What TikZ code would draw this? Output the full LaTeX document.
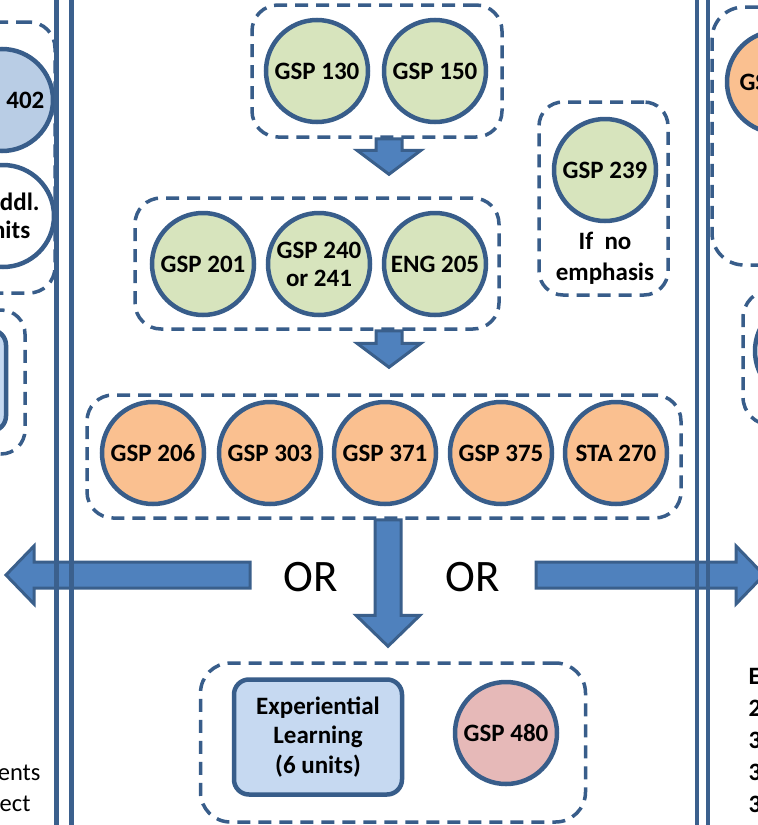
\documentclass[tikz,border=0pt]{standalone}
\usepackage{fontspec}
\setmainfont{Carlito}
\usetikzlibrary{calc}
\definecolor{bdr}{RGB}{56,93,138}
\definecolor{lineblue}{RGB}{59,96,141}
\definecolor{arrfill}{RGB}{79,129,189}
\definecolor{arrbdr}{RGB}{58,95,139}
\definecolor{greenf}{RGB}{215,228,189}
\definecolor{orangef}{RGB}{250,192,144}
\definecolor{rosef}{RGB}{230,185,184}
\definecolor{lbluef}{RGB}{198,217,241}
\definecolor{mbluef}{RGB}{185,205,229}
\newcommand\blockdown[3]{%
  \draw[blockarrow] let \p1=(#1), \p2=(#2) in
    (\x1-13pt,\y1) -- (\x1+13pt,\y1) -- (\x1+13pt,\y2+#3pt) -- (\x1+32pt,\y2+#3pt)
    -- (\x2,\y2) -- (\x1-32pt,\y2+#3pt) -- (\x1-13pt,\y2+#3pt) -- cycle;}
\begin{document}
\begin{tikzpicture}[x=1pt,y=-1pt,
  course/.style={circle,draw=bdr,line width=4.5pt,minimum size=102pt,inner sep=0pt,
    align=center,font=\fontsize{25}{28}\selectfont\bfseries},
  grp/.style={draw=bdr,line width=3.5pt,dash pattern=on 13pt off 8pt,rounded corners=26pt,
    inner sep=0pt},
  blockarrow/.style={fill=arrfill,draw=arrbdr,line width=3pt,line join=miter},
  vline/.style={draw=lineblue,line width=5pt},
  lbl/.style={align=center,font=\fontsize{25}{31}\selectfont\bfseries},
  ortext/.style={font=\fontsize{45}{48}\selectfont},
  plain/.style={font=\fontsize{24.5}{32}\selectfont}]
\useasboundingbox (0,0) rectangle (758,825);
\clip (0,0) rectangle (758,825);
\fill[white] (0,0) rectangle (758,825);

% ---- left column fragments
\node[grp,minimum width=110pt,minimum height=271pt] (lbox1) at (0,157.5) {};
\node[course,fill=mbluef] (g402) at (2,100) {GSP 402};
\node[course,fill=white] (addl) at (3,216) {6 Addl.\\Units};
\node[grp,minimum width=120pt,minimum height=144pt,rounded corners=24pt] (lbox2) at (-35,382) {};
\node[draw=bdr,line width=4.5pt,fill=lbluef,rounded corners=15pt,minimum width=120pt,minimum height=101pt] (lrect) at (-54,380.5) {};
\node[plain,anchor=east] (lt1) at (44,773) {ents};
\node[plain,anchor=east] (lt2) at (34,804) {ect};

% ---- right column fragments
\node[grp,minimum width=120pt,minimum height=258pt,rounded corners=32pt] (rbox1) at (772,136) {};
\node[course,fill=orangef] (rgsp) at (778,82) {};
\node[lbl,anchor=west] (rgsptxt) at (736,82) {GSP};
\node[grp,minimum width=100pt,minimum height=135pt,rounded corners=28pt] (rbox2) at (793,357.5) {};
\node[course,fill=white] (rcirc) at (806,351) {};
\node[anchor=west,align=left,font=\fontsize{25}{32}\selectfont\bfseries] (emph) at (745,740) {E\\2\\3\\3\\3};

% ---- top group
\node[grp,minimum width=250pt,minimum height=132pt] (topbox) at (377,71) {};
\node[course,fill=greenf] (g130) at (317,71) {GSP 130};
\node[course,fill=greenf] (g150) at (435,71) {GSP 150};

% ---- GSP 239 group
\node[grp,minimum width=129pt,minimum height=193pt,rounded corners=24pt] (nobox) at (603.5,198.5) {};
\node[course,fill=greenf] (g239) at (605,170) {GSP 239};
\node[lbl] (ifno) at (605,258) {If\ \ no\\emphasis};

% ---- middle group
\node[grp,minimum width=364pt,minimum height=131pt] (midbox) at (317,263.5) {};
\node[course,fill=greenf] (g201) at (203,264) {GSP 201};
\node[course,fill=greenf] (g240) at (319,264) {GSP 240\\or 241};
\node[course,fill=greenf] (e205) at (435,264) {ENG 205};

% ---- orange group
\node[grp,minimum width=594pt,minimum height=123pt] (orbox) at (384,456.5) {};
\node[course,fill=orangef] (g206) at (153,453) {GSP 206};
\node[course,fill=orangef] (g303) at (270,453) {GSP 303};
\node[course,fill=orangef] (g371) at (385,453) {GSP 371};
\node[course,fill=orangef] (g375) at (501,453) {GSP 375};
\node[course,fill=orangef] (s270) at (616,453) {STA 270};

% ---- bottom group
\node[grp,minimum width=385pt,minimum height=159pt,rounded corners=30pt] (botbox) at (393,742.5) {};
\node[draw=bdr,line width=4.5pt,fill=lbluef,rounded corners=15pt,minimum width=168pt,
      minimum height=115pt,align=center,font=\fontsize{25}{29.5}\selectfont\bfseries] (exp) at (318,737) {Experiential\\Learning\\(6 units)};
\node[course,fill=rosef] (g480) at (506,733) {GSP 480};

% ---- OR labels
\node[ortext] (or1) at (311,577) {OR};
\node[ortext] (or2) at (473,577) {OR};

% ---- block arrows
\coordinate (ax) at (389,0);
\coordinate (bx) at (388,0);
\coordinate (a1tip) at ($(midbox.north -| ax)+(0,-22)$);
\coordinate (a2tip) at ($(orbox.north -| ax)+(0,-26)$);
\coordinate (a3tip) at ($(botbox.north -| bx)+(0,-15)$);
\blockdown{topbox.south -| ax}{a1tip}{24}
\blockdown{midbox.south -| ax}{a2tip}{24}
\blockdown{orbox.south -| bx}{a3tip}{31}

\coordinate (lstart) at (250,575);
\coordinate (ltip) at (6,575);
\coordinate (rstart) at (536,575);
\coordinate (rtip) at (764,575);
\draw[blockarrow] let \p1=(lstart), \p2=(ltip) in
  (\x1,\y1-13pt) -- (\x2+28pt,\y1-13pt) -- (\x2+28pt,\y1-29pt) -- (\x2,\y2)
  -- (\x2+28pt,\y1+29pt) -- (\x2+28pt,\y1+13pt) -- (\x1,\y1+13pt) -- cycle;
\draw[blockarrow] let \p1=(rstart), \p2=(rtip) in
  (\x1,\y1-13pt) -- (\x2-28pt,\y1-13pt) -- (\x2-28pt,\y1-29pt) -- (\x2,\y2)
  -- (\x2-28pt,\y1+29pt) -- (\x2-28pt,\y1+13pt) -- (\x1,\y1+13pt) -- cycle;

% ---- column separators
\draw[vline] (56.5,0) -- (56.5,825);
\draw[vline] (71.5,0) -- (71.5,825);
\draw[vline,line width=4.5pt] (697,0) -- (697,825);
\draw[vline,line width=4.5pt] (708,0) -- (708,825);
\end{tikzpicture}
\end{document}
